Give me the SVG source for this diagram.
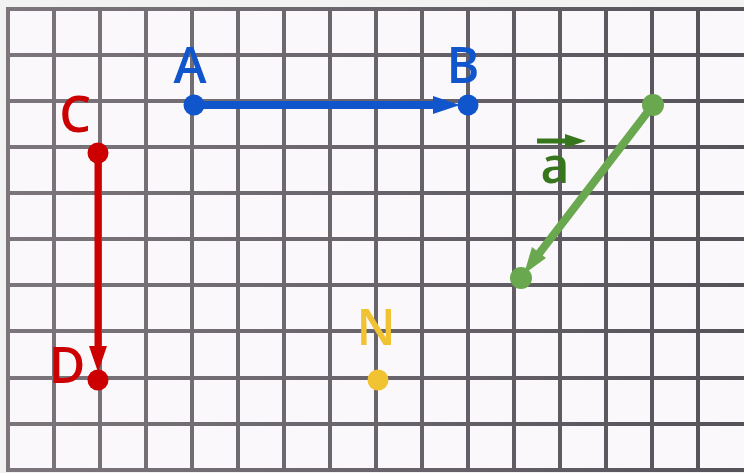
<svg xmlns="http://www.w3.org/2000/svg" width="744" height="473" viewBox="0 0 744 473">
  <style>
    .lbl { font-family: "Open Sans", "Noto Sans", "Liberation Sans", sans-serif; font-weight: 600; font-size: 50px; text-anchor: middle; }
    .grid line { stroke: url(#gridGrad); stroke-width: 4; }
  </style>
  <defs>
    <linearGradient id="gridGrad" gradientUnits="userSpaceOnUse" x1="0" y1="0" x2="744" y2="0">
      <stop offset="0" stop-color="#7c767c"/>
      <stop offset="1" stop-color="#56525a"/>
    </linearGradient>
  </defs>
  <rect x="0" y="0" width="744" height="473" fill="#f2f2f2"/>
  <rect x="8" y="9" width="736" height="461" fill="#fbf8fc"/>
  <g class="grid" id="grid">
    <line x1="8" y1="7" x2="8" y2="472"/>
    <line x1="54" y1="7" x2="54" y2="472"/>
    <line x1="100" y1="7" x2="100" y2="472"/>
    <line x1="146" y1="7" x2="146" y2="472"/>
    <line x1="192" y1="7" x2="192" y2="472"/>
    <line x1="238" y1="7" x2="238" y2="472"/>
    <line x1="284" y1="7" x2="284" y2="472"/>
    <line x1="330" y1="7" x2="330" y2="472"/>
    <line x1="376" y1="7" x2="376" y2="472"/>
    <line x1="422" y1="7" x2="422" y2="472"/>
    <line x1="468" y1="7" x2="468" y2="472"/>
    <line x1="514" y1="7" x2="514" y2="472"/>
    <line x1="560" y1="7" x2="560" y2="472"/>
    <line x1="606" y1="7" x2="606" y2="472"/>
    <line x1="652" y1="7" x2="652" y2="472"/>
    <line x1="698" y1="7" x2="698" y2="472"/>
    <line x1="6" y1="9" x2="744" y2="9"/>
    <line x1="6" y1="55" x2="744" y2="55"/>
    <line x1="6" y1="101" x2="744" y2="101"/>
    <line x1="6" y1="147" x2="744" y2="147"/>
    <line x1="6" y1="193" x2="744" y2="193"/>
    <line x1="6" y1="239" x2="744" y2="239"/>
    <line x1="6" y1="285" x2="744" y2="285"/>
    <line x1="6" y1="331" x2="744" y2="331"/>
    <line x1="6" y1="378" x2="744" y2="378"/>
    <line x1="6" y1="424" x2="744" y2="424"/>
    <line x1="6" y1="470" x2="744" y2="470"/>
  </g>
  <g id="connectors">
    <g id="vec-AB">
      <line x1="194" y1="105" x2="440" y2="105" stroke="#1155cc" stroke-width="8"/>
      <polygon points="460,105 433,96 433,114" fill="#1155cc"/>
    </g>
    <g id="vec-CD">
      <line x1="98" y1="153" x2="98" y2="352" stroke="#cc0000" stroke-width="7"/>
      <polygon points="98,372 89,346 107,346" fill="#cc0000"/>
    </g>
    <g id="vec-a">
      <line x1="653" y1="105" x2="538" y2="255" stroke="#6aa84f" stroke-width="8"/>
      <polygon points="524,274 532,247 546,258" fill="#6aa84f"/>
    </g>
  </g>
  <g id="node-A">
    <circle cx="194" cy="105" r="10.5" fill="#1155cc"/>
    <text class="lbl" x="190" y="83" fill="#1155cc">A</text>
  </g>
  <g id="node-B">
    <circle cx="468" cy="105" r="10.5" fill="#1155cc"/>
    <text class="lbl" x="463" y="83" fill="#1155cc">B</text>
  </g>
  <g id="node-C">
    <circle cx="98" cy="153" r="10.5" fill="#cc0000"/>
    <text class="lbl" x="75" y="132" fill="#cc0000">C</text>
  </g>
  <g id="node-D">
    <circle cx="98" cy="380" r="10.5" fill="#cc0000"/>
    <text class="lbl" x="67" y="383" fill="#cc0000">D</text>
  </g>
  <g id="node-N">
    <circle cx="378" cy="380" r="10.5" fill="#f1c232"/>
    <text class="lbl" x="376" y="345" fill="#f1c232">N</text>
  </g>
  <g id="node-a-start">
    <circle cx="653" cy="105" r="11" fill="#6aa84f"/>
  </g>
  <g id="node-a-end">
    <circle cx="521" cy="278" r="11" fill="#6aa84f"/>
  </g>
  <g id="label-a">
    <line x1="537" y1="141" x2="567" y2="141" stroke="#38761d" stroke-width="5"/>
    <polygon points="586,141 565,134 565,148" fill="#38761d"/>
    <text class="lbl" x="555" y="183" fill="#38761d">a</text>
  </g>
</svg>
